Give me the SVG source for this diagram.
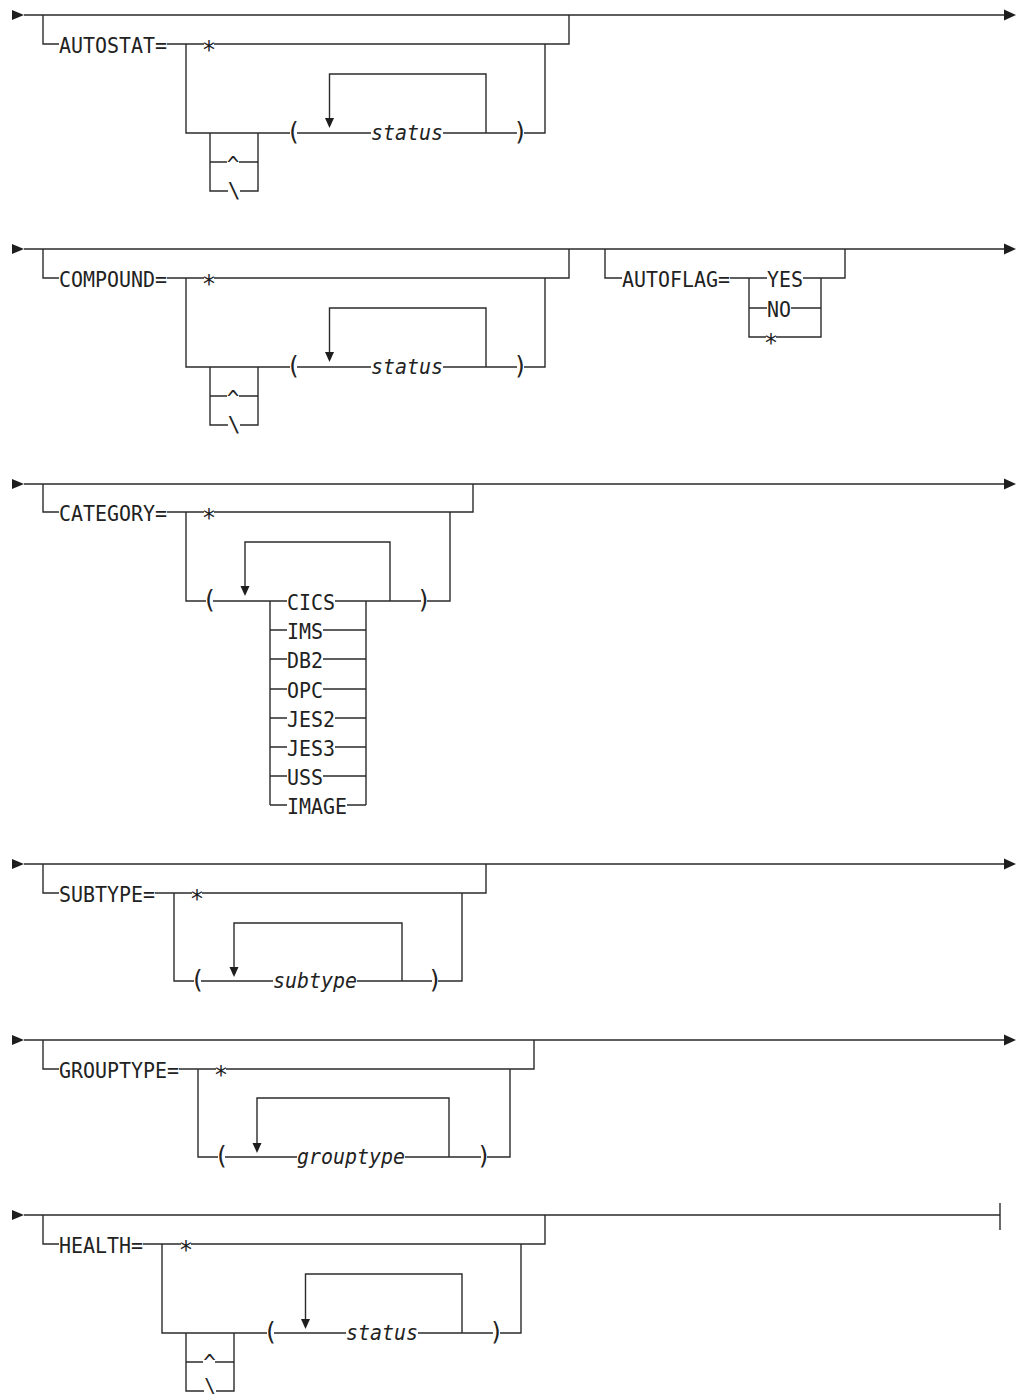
<svg xmlns="http://www.w3.org/2000/svg" width="1016" height="1395" viewBox="0 0 1016 1395">
<style>
.ln{fill:none;stroke:#2b2b2b;stroke-width:1.4}
.ah{fill:#1e1e1e;stroke:none}
.t{font-family:"DejaVu Sans Mono","Liberation Mono",monospace;font-size:21px;fill:#222}
.i{font-style:italic;font-size:21.5px}
.m{text-anchor:middle}
.p{font-size:24px}
.s{font-size:24px}
.c{font-size:21px}
.b{font-size:21px}
.b2{font-size:19px}
</style>
<rect width="1016" height="1395" fill="#fff"/>
<g id="connectors">
<path class="ln" d="M24,15 H1004 M43,15 V44 H59 M167,44 H204 M214,44 H569 V15 M186,44 V133 H290 M210,133 V191 H228 M240,191 H258 V133 M210,162 H227 M239,162 H258 M297,133 H371 M443,133 H517 M524,133 H545 V44 M486,133 V74 H329.5 V118"/>
<polygon class="ah" points="12,10 24,15 12,20"/>
<polygon class="ah" points="1004,9.5 1016,15 1004,20.5"/>
<polygon class="ah" points="325,118 334,118 329.5,128"/>
<path class="ln" d="M24,249 H1004 M43,249 V278 H59 M167,278 H204 M214,278 H569 V249 M186,278 V367 H290 M210,367 V425 H228 M240,425 H258 V367 M210,396 H227 M239,396 H258 M297,367 H371 M443,367 H517 M524,367 H545 V278 M486,367 V308 H329.5 V352"/>
<path class="ln" d="M605,249 V278 H622 M730,278 H767 M803,278 H845 V249 M749,278 V337 H766 M776,337 H821 V278 M749,308 H767 M791,308 H821"/>
<polygon class="ah" points="12,244 24,249 12,254"/>
<polygon class="ah" points="1004,243.5 1016,249 1004,254.5"/>
<polygon class="ah" points="325,352 334,352 329.5,362"/>
<path class="ln" d="M24,484 H1004 M43,484 V512 H59 M167,512 H204 M214,512 H473 V484 M186,512 V601 H206 M213,601 H287 M270,601 V805 M335,601 H421 M427,601 H450 V512 M366,601 V805 M270,630 H287 M323,630 H366 M270,659 H287 M323,659 H366 M270,689 H287 M323,689 H366 M270,718 H287 M335,718 H366 M270,747 H287 M335,747 H366 M270,776 H287 M323,776 H366 M270,805 H287 M347,805 H366 M390,601 V542 H245 V586"/>
<polygon class="ah" points="12,479 24,484 12,489"/>
<polygon class="ah" points="1004,478.5 1016,484 1004,489.5"/>
<polygon class="ah" points="240.5,586 249.5,586 245,596"/>
<path class="ln" d="M24,864 H1004 M43,864 V893 H59 M155,893 H192 M202,893 H486 V864 M174,893 V981 H194 M201,981 H273 M357,981 H432 M438,981 H462 V893 M402,981 V923 H234 V967"/>
<polygon class="ah" points="12,859 24,864 12,869"/>
<polygon class="ah" points="1004,858.5 1016,864 1004,869.5"/>
<polygon class="ah" points="229.5,967 238.5,967 234,977"/>
<path class="ln" d="M24,1040 H1004 M43,1040 V1069 H59 M179,1069 H216 M226,1069 H534 V1040 M198,1069 V1157 H218 M225,1157 H297 M405,1157 H481 M487,1157 H510 V1069 M449,1157 V1098 H257 V1143"/>
<polygon class="ah" points="12,1035 24,1040 12,1045"/>
<polygon class="ah" points="1004,1034.5 1016,1040 1004,1045.5"/>
<polygon class="ah" points="252.5,1143 261.5,1143 257,1153"/>
<path class="ln" d="M24,1215 H1000 M1000,1203 V1230 M43,1215 V1244 H59 M143,1244 H181 M191,1244 H545 V1215 M162,1244 V1333 H267 M186,1333 V1391 H204 M216,1391 H234 V1333 M186,1362 H203 M215,1362 H234 M274,1333 H346 M418,1333 H493 M500,1333 H521 V1244 M462,1333 V1274 H305.5 V1319"/>
<polygon class="ah" points="12,1210 24,1215 12,1220"/>
<polygon class="ah" points="301,1319 310,1319 305.5,1329"/>
</g>
<g id="autostat"><text class="t" x="59" y="52.5" textLength="108" lengthAdjust="spacingAndGlyphs">AUTOSTAT=</text></g>
<g id="autostat-star"><text class="t m s" x="209" y="58">*</text></g>
<g id="autostat-caret"><text class="t m c" x="233" y="171.5">^</text></g>
<g id="autostat-backslash"><text class="t m b" x="234" y="198">\</text></g>
<g id="autostat-lparen"><text class="t m p" x="293.5" y="139.5">(</text></g>
<g id="autostat-status"><text class="t i" x="371" y="140" textLength="72" lengthAdjust="spacingAndGlyphs">status</text></g>
<g id="autostat-rparen"><text class="t m p" x="520.5" y="139.5">)</text></g>
<g id="compound"><text class="t" x="59" y="286.5" textLength="108" lengthAdjust="spacingAndGlyphs">COMPOUND=</text></g>
<g id="compound-star"><text class="t m s" x="209" y="292">*</text></g>
<g id="compound-caret"><text class="t m c" x="233" y="405.5">^</text></g>
<g id="compound-backslash"><text class="t m b" x="234" y="432">\</text></g>
<g id="compound-lparen"><text class="t m p" x="293.5" y="373.5">(</text></g>
<g id="compound-status"><text class="t i" x="371" y="374" textLength="72" lengthAdjust="spacingAndGlyphs">status</text></g>
<g id="compound-rparen"><text class="t m p" x="520.5" y="373.5">)</text></g>
<g id="autoflag"><text class="t" x="622" y="286.5" textLength="108" lengthAdjust="spacingAndGlyphs">AUTOFLAG=</text></g>
<g id="autoflag-yes"><text class="t" x="767" y="286.5" textLength="36" lengthAdjust="spacingAndGlyphs">YES</text></g>
<g id="autoflag-no"><text class="t" x="767" y="316.5" textLength="24" lengthAdjust="spacingAndGlyphs">NO</text></g>
<g id="autoflag-star"><text class="t m s" x="771" y="351">*</text></g>
<g id="category"><text class="t" x="59" y="520.5" textLength="108" lengthAdjust="spacingAndGlyphs">CATEGORY=</text></g>
<g id="category-star"><text class="t m s" x="209" y="526">*</text></g>
<g id="category-lparen"><text class="t m p" x="209.5" y="607.5">(</text></g>
<g id="cat-cics"><text class="t" x="287" y="609.5" textLength="48" lengthAdjust="spacingAndGlyphs">CICS</text></g>
<g id="cat-ims"><text class="t" x="287" y="638.5" textLength="36" lengthAdjust="spacingAndGlyphs">IMS</text></g>
<g id="cat-db2"><text class="t" x="287" y="667.5" textLength="36" lengthAdjust="spacingAndGlyphs">DB2</text></g>
<g id="cat-opc"><text class="t" x="287" y="697.5" textLength="36" lengthAdjust="spacingAndGlyphs">OPC</text></g>
<g id="cat-jes2"><text class="t" x="287" y="726.5" textLength="48" lengthAdjust="spacingAndGlyphs">JES2</text></g>
<g id="cat-jes3"><text class="t" x="287" y="755.5" textLength="48" lengthAdjust="spacingAndGlyphs">JES3</text></g>
<g id="cat-uss"><text class="t" x="287" y="784.5" textLength="36" lengthAdjust="spacingAndGlyphs">USS</text></g>
<g id="cat-image"><text class="t" x="287" y="813.5" textLength="60" lengthAdjust="spacingAndGlyphs">IMAGE</text></g>
<g id="category-rparen"><text class="t m p" x="424" y="607.5">)</text></g>
<g id="subtype"><text class="t" x="59" y="901.5" textLength="96" lengthAdjust="spacingAndGlyphs">SUBTYPE=</text></g>
<g id="subtype-star"><text class="t m s" x="197" y="907">*</text></g>
<g id="subtype-lparen"><text class="t m p" x="197.5" y="987.5">(</text></g>
<g id="subtype-var"><text class="t i" x="273" y="988" textLength="84" lengthAdjust="spacingAndGlyphs">subtype</text></g>
<g id="subtype-rparen"><text class="t m p" x="435" y="987.5">)</text></g>
<g id="grouptype"><text class="t" x="59" y="1077.5" textLength="120" lengthAdjust="spacingAndGlyphs">GROUPTYPE=</text></g>
<g id="grouptype-star"><text class="t m s" x="221" y="1083">*</text></g>
<g id="grouptype-lparen"><text class="t m p" x="221.5" y="1163.5">(</text></g>
<g id="grouptype-var"><text class="t i" x="297" y="1164" textLength="108" lengthAdjust="spacingAndGlyphs">grouptype</text></g>
<g id="grouptype-rparen"><text class="t m p" x="484" y="1163.5">)</text></g>
<g id="health"><text class="t" x="59" y="1252.5" textLength="84" lengthAdjust="spacingAndGlyphs">HEALTH=</text></g>
<g id="health-star"><text class="t m s" x="186" y="1258">*</text></g>
<g id="health-caret"><text class="t m c" x="209.5" y="1370">^</text></g>
<g id="health-backslash"><text class="t m b2" x="210" y="1392">\</text></g>
<g id="health-lparen"><text class="t m p" x="270.5" y="1339.5">(</text></g>
<g id="health-status"><text class="t i" x="346" y="1340" textLength="72" lengthAdjust="spacingAndGlyphs">status</text></g>
<g id="health-rparen"><text class="t m p" x="496.5" y="1339.5">)</text></g>
</svg>
